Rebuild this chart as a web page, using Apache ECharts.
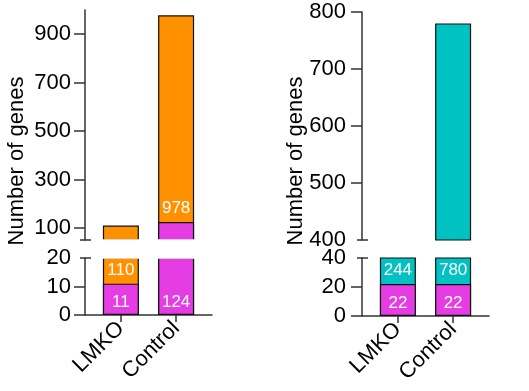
<!DOCTYPE html>
<html>
<head>
<meta charset="utf-8">
<style>html,body{margin:0;padding:0;background:#fff}#main{width:529px;height:391px}</style>
<script src="https://cdn.jsdelivr.net/npm/echarts@6/dist/echarts.min.js"></script>
</head>
<body>
<div id="main"></div>
<script>
var categories = ['LMKO', 'Control'];
var leftBase = [11, 124];
var leftTotal = [110, 978];
var rightBase = [22, 22];
var rightTotal = [244, 780];
var leftUpperTicks = [100, 300, 500, 700, 900];
var leftLowerTicks = [0, 10, 20];
var rightUpperTicks = [400, 500, 600, 700, 800];
var rightLowerTicks = [0, 20, 40];

var FONT = 'Liberation Sans, Arial, sans-serif';
var AXIS = '#333';
var ORANGE = '#ff9100', MAGENTA = '#e63ce4', CYAN = '#00c2c2';
var XMIN = -0.65, XMAX = 1.65;

var myChart = echarts.init(document.getElementById('main'));

// edgeBorder: whether the bars keep an outline where the axis break cuts them
var panels = [
    {left: 85, upTop: 10, labelGap: 14, base: leftBase, total: leftTotal, color: ORANGE, edgeBorder: false,
     up: [50, 1000], low: [0, 20], upTicks: leftUpperTicks, lowTicks: leftLowerTicks, titleX: 17},
    {left: 362, upTop: 12, labelGap: 16, base: rightBase, total: rightTotal, color: CYAN, edgeBorder: true,
     up: [400, 800], low: [0, 40], upTicks: rightUpperTicks, lowTicks: rightLowerTicks, titleX: 296}
];

var grids = [], xAxes = [], yAxes = [], series = [];

panels.forEach(function (p, pi) {
    var lowBottom = pi === 0 ? 315 : 316;
    [true, false].forEach(function (upper) {
        var g = grids.length;
        var top = upper ? p.upTop : 258;
        var bottom = upper ? 240 : lowBottom;
        grids.push({left: p.left, top: top, width: 127, height: bottom - top});
        var range = upper ? p.up : p.low;
        var labels = upper ? p.upTicks : p.lowTicks;
        // break value gets a cross mark instead of a tick
        var breakVal = upper ? p.up[0] : p.low[1];
        var ticks = labels.filter(function (v) { return v !== breakVal; });

        xAxes.push({
            type: 'value', gridIndex: g, min: XMIN, max: XMAX, show: !upper,
            splitLine: {show: false},
            axisLine: {onZero: false, lineStyle: {color: AXIS, width: 1.5}},
            axisTick: {customValues: [0, 1], length: 7, lineStyle: {color: AXIS, width: 1.5}},
            axisLabel: {
                customValues: [0, 1], rotate: 45, margin: 10,
                fontSize: 22, fontFamily: FONT, color: '#000',
                formatter: function (v) { return categories[Math.round(v)]; }
            }
        });
        yAxes.push({
            type: 'value', gridIndex: g, min: range[0], max: range[1],
            splitLine: {show: false},
            axisLine: {show: true, onZero: false, lineStyle: {color: AXIS, width: 1.5}},
            axisTick: {show: true, customValues: ticks, length: 11, lineStyle: {color: AXIS, width: 1.5}},
            axisLabel: {customValues: labels, margin: p.labelGap, fontSize: 22, fontFamily: FONT, color: '#000'}
        });

        var lowMax = p.low[1];
        var common = {
            type: 'bar', xAxisIndex: g, yAxisIndex: g, barWidth: 36, barGap: '-100%',
            animation: false
        };
        series.push(Object.assign({}, common, {
            itemStyle: {color: p.color, borderColor: '#111', borderWidth: 1.2},
            label: {position: 'insideTop', distance: 4, color: '#fff', fontSize: 17, fontFamily: FONT,
                formatter: function (d) { return d.value[1]; }},
            data: p.total.map(function (v, i) {
                return {value: [i, v], label: {show: !upper && p.base[i] < lowMax}};
            })
        }));
        series.push(Object.assign({}, common, {
            itemStyle: {color: MAGENTA, borderColor: '#111', borderWidth: 1.2},
            label: upper ?
                {position: 'top', distance: 5, color: '#fff', fontSize: 17, fontFamily: FONT,
                    formatter: function (d) { return p.total[d.dataIndex]; }} :
                {position: 'insideBottom', distance: 4, color: '#fff', fontSize: 17, fontFamily: FONT,
                    formatter: function (d) { return d.value[1]; }},
            data: p.base.map(function (v, i) {
                return {value: [i, v], label: {show: upper ? v >= lowMax : true}};
            })
        }));
    });
});

myChart.setOption({
    animation: false,
    grid: grids,
    xAxis: xAxes,
    yAxis: yAxes,
    series: series
});

// axis break marks and rotated axis titles
var graphics = [];
panels.forEach(function (p, pi) {
    var upBottom = myChart.convertToPixel({gridIndex: pi * 2}, [XMIN, p.up[0]]);
    var lowTop = myChart.convertToPixel({gridIndex: pi * 2 + 1}, [XMAX, p.low[1]]);
    if (!p.edgeBorder) {
        // hide the outline that clipping leaves on the cut bar ends
        graphics.push({
            type: 'rect', z: 100,
            shape: {x: upBottom[0] + 1, y: upBottom[1] - 0.8, width: lowTop[0] - upBottom[0],
                height: lowTop[1] - upBottom[1] + 1.6},
            style: {fill: '#fff'}
        });
    }
    [upBottom, [upBottom[0], lowTop[1]]].forEach(function (pt) {
        graphics.push({
            type: 'line', z: 101,
            shape: {x1: pt[0] - 5, y1: pt[1], x2: pt[0] + 6, y2: pt[1]},
            style: {stroke: AXIS, lineWidth: 1.5}
        });
    });
    graphics.push({
        type: 'text', x: p.titleX, y: 161, rotation: Math.PI / 2, z: 101,
        style: {text: 'Number of genes', fontSize: 22, fontFamily: FONT, fill: '#000',
            align: 'center', verticalAlign: 'middle'}
    });
});
myChart.setOption({graphic: graphics});
</script>
</body>
</html>
